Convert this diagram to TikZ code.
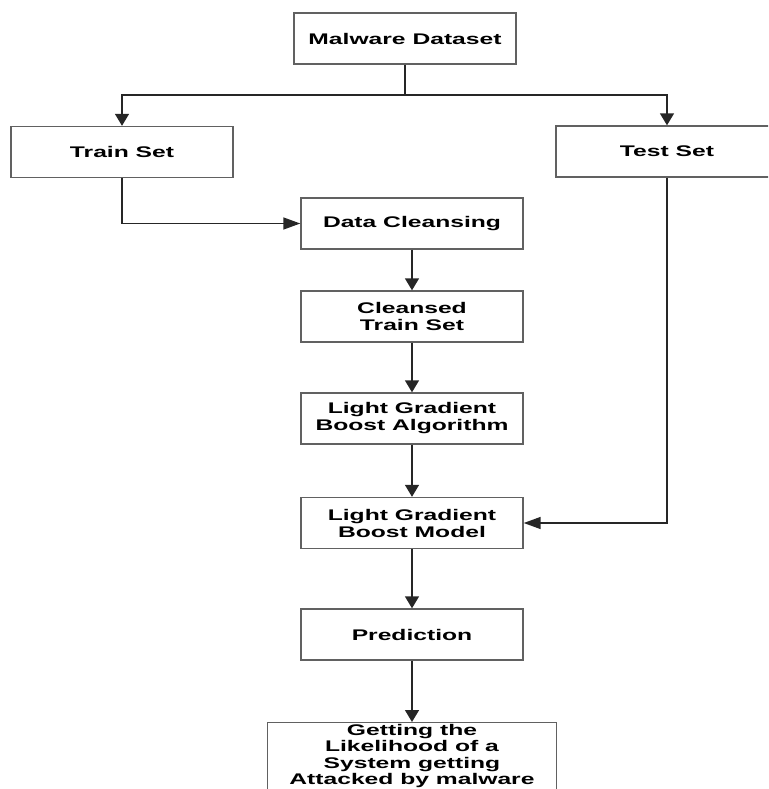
\documentclass[tikz,border=0pt]{standalone}
\usepackage{fontspec}
\newfontfamily\boxfont[FakeStretch=1.6]{Liberation Sans}
\usetikzlibrary{arrows.meta}

\begin{document}
\begin{tikzpicture}[x=1pt, y=1pt,
  blok/.style={draw=black!62, line width=1.4pt, minimum width=222pt, minimum height=51pt,
    align=center, inner sep=3pt, font=\boxfont\bfseries\fontsize{15.4}{17}\selectfont},
  linha/.style={line width=1.5pt, draw=black!85},
  seta/.style={linha, -{Triangle[length=12pt,width=14pt]}},
  setah/.style={linha, -{Triangle[length=17pt,width=12pt]}}]
  \useasboundingbox (0,0) rectangle (768,-789);
  \clip (0,0) rectangle (768,-789);
  \def\xA{122} \def\xB{412} \def\xC{667}
  % caixas da coluna central, de cima para baixo
  \node[blok] (dataset) at (405,-38.5) {Malware Dataset};
  \node[blok] (train) at (\xA,-152) {Train Set};
  \node[blok] (test) at (\xC,-151.5) {Test Set};
  \node[blok] (clean) at (\xB,-223.5) {Data Cleansing};
  \node[blok] (cleansed) at (\xB,-316.5) {Cleansed\\Train Set};
  \node[blok] (algo) at (\xB,-418.5) {Light Gradient\\Boost Algorithm};
  \node[blok] (model) at (\xB,-523) {Light Gradient\\Boost Model};
  \node[blok] (predict) at (\xB,-634.5) {Prediction};
  \node[blok, minimum width=289pt, minimum height=0pt, anchor=north, inner ysep=1.5pt,
    font=\boxfont\bfseries\fontsize{15.4}{16.4}\selectfont]
    (likely) at (\xB,-722) {Getting the\\Likelihood of a\\System getting\\Attacked by malware};
  \coordinate (split) at (405,-95);
  \draw[linha] (dataset) -- (split);
  \draw[seta] (split) -| (train);
  \draw[seta] (split) -| (test);
  \draw[setah] (train) |- (clean);
  \draw[setah] (test) |- (model);
  \draw[seta] (clean) -- (cleansed);
  \draw[seta] (cleansed) -- (algo);
  \draw[seta] (algo) -- (model);
  \draw[seta] (model) -- (predict);
  \draw[seta] (predict) -- (likely);
\end{tikzpicture}
\end{document}
